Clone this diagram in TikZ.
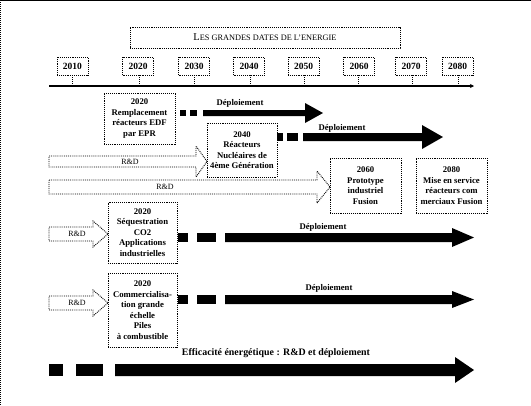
\documentclass[tikz,border=0pt]{standalone}
\usepackage{fontspec}
\setmainfont{Liberation Serif}
\usetikzlibrary{arrows.meta}
\begin{document}
\begin{tikzpicture}[x=1pt,y=-1pt,
  dotbox/.style={draw,densely dotted,line width=0.9pt},
  yearbox/.style={dotbox,minimum width=31pt,minimum height=18pt,inner sep=0pt,font=\fontsize{9.5}{10}\selectfont\bfseries},
  infobox/.style={dotbox,inner sep=0pt,align=center,font=\fontsize{8.7}{10.5}\selectfont\bfseries},
  tick/.style={densely dotted,line width=1pt},
  hollow/.style={draw,densely dotted,line width=0.9pt},
  lbl/.style={font=\fontsize{8.7}{9}\selectfont\bfseries,inner sep=0pt},
  rdl/.style={font=\fontsize{8}{9}\selectfont,inner sep=0pt}]
\useasboundingbox (0,0) rectangle (531,405);
% frame
\draw[line width=1.5pt] (0,0.5) -- (531,0.5);
\draw[densely dotted,line width=1pt] (0.5,0) -- (0.5,405);
% title
\node[dotbox,minimum width=270pt,minimum height=21pt,inner sep=0pt] (title) at (265,37.5)
  {\fontsize{10.5}{11}\selectfont L\fontsize{8.3}{9}\selectfont ES GRANDES DATES DE L'ENERGIE};
% axis
\coordinate (axs) at (49,86);
\coordinate (axe) at (474,86);
\draw[line width=1.6pt,-{Stealth[length=4pt,width=4pt]}] (axs) -- (axe);
% year boxes and ticks
\foreach \yr/\cx/\tx in {2010/72.5/72,2020/138/139,2030/194/194,2040/249/250,2050/303.5/304,2060/359/358,2070/411/412,2080/457.5/458}{
  \node[yearbox] (y\yr) at (\cx,66) {\yr};
  \coordinate (t\yr) at (\tx,86);
  \draw[tick] (\tx,75) -- (t\yr);
}
% row 1
\node[infobox,minimum width=71pt,minimum height=51pt] (b1) at (139.5,118.5)
  {2020\\Remplacement\\réacteurs EDF\\par EPR};
\fill (180,110) rectangle (186,116);
\fill (190,110) rectangle (197,116);
\fill (203,110) -- (305,110) -- (305,103) -- (323,113) -- (305,123) -- (305,116) -- (203,116) -- cycle;
\node[lbl] (d1) at (240,103) {Déploiement};
% row 2
\node[infobox,minimum width=70pt,minimum height=54pt] (b2) at (242,150)
  {2040\\Réacteurs\\Nucléaires de\\4ème Génération};
\fill (277,133) rectangle (283,141);
\fill (287,133) rectangle (298,141);
\fill (303,133) -- (422,133) -- (422,125) -- (443,137) -- (422,149) -- (422,141) -- (303,141) -- cycle;
\node[lbl] (d2) at (342,128) {Déploiement};
% R&D arrow 1
\draw[hollow] (49,156) -- (196,156) -- (196,146) -- (207,161.5) -- (196,177) -- (196,167) -- (49,167) -- cycle;
\node[rdl] (r1) at (130,161.5) {R\&D};
% R&D arrow 2
\draw[hollow] (49,180) -- (317,180) -- (317,171) -- (330,187) -- (317,203) -- (317,194) -- (49,194) -- cycle;
\node[rdl] (r2) at (165,187) {R\&D};
% fusion boxes
\node[infobox,minimum width=71pt,minimum height=55pt] (b3) at (365.5,185.5)
  {2060\\Prototype\\industriel\\Fusion};
\node[infobox,minimum width=71pt,minimum height=55pt] (b4) at (451.5,185.5)
  {2080\\Mise en service\\réacteurs com\\merciaux Fusion};
% row 3
\node[infobox,minimum width=69pt,minimum height=61pt] (b5) at (142.5,232.5)
  {2020\\Séquestration\\CO2\\Applications\\industrielles};
\draw[hollow] (49,227) -- (93,227) -- (93,221) -- (108,234) -- (93,247) -- (93,241) -- (49,241) -- cycle;
\node[rdl] (r3) at (77,234) {R\&D};
\fill (178,233) rectangle (188,242);
\fill (197,233) rectangle (216,242);
\fill (225,233) -- (452,233) -- (452,228) -- (474,237.5) -- (452,247) -- (452,242) -- (225,242) -- cycle;
\node[lbl] (d3) at (323,227) {Déploiement};
% row 4
\node[infobox,minimum width=69pt,minimum height=74pt] (b6) at (142.5,310)
  {2020\\Commercialisa-\\tion grande\\échelle\\Piles\\à combustible};
\draw[hollow] (49,296) -- (93,296) -- (93,290) -- (108,303) -- (93,316) -- (93,310) -- (49,310) -- cycle;
\node[rdl] (r4) at (77,303) {R\&D};
\fill (178,295) rectangle (188,304);
\fill (197,295) rectangle (216,304);
\fill (225,295) -- (452,295) -- (452,291) -- (474,299.5) -- (452,308) -- (452,304) -- (225,304) -- cycle;
\node[lbl] (d4) at (329,288) {Déploiement};
% row 5
\node[font=\fontsize{9.9}{10}\selectfont\bfseries,inner sep=0pt] (eff) at (276,353) {Efficacité énergétique : R\&D et déploiement};
\fill (49,364) rectangle (63,376);
\fill (76,364) rectangle (103,376);
\fill (115,364) -- (455,364) -- (455,357) -- (474,370) -- (455,383) -- (455,376) -- (115,376) -- cycle;
\end{tikzpicture}
\end{document}
